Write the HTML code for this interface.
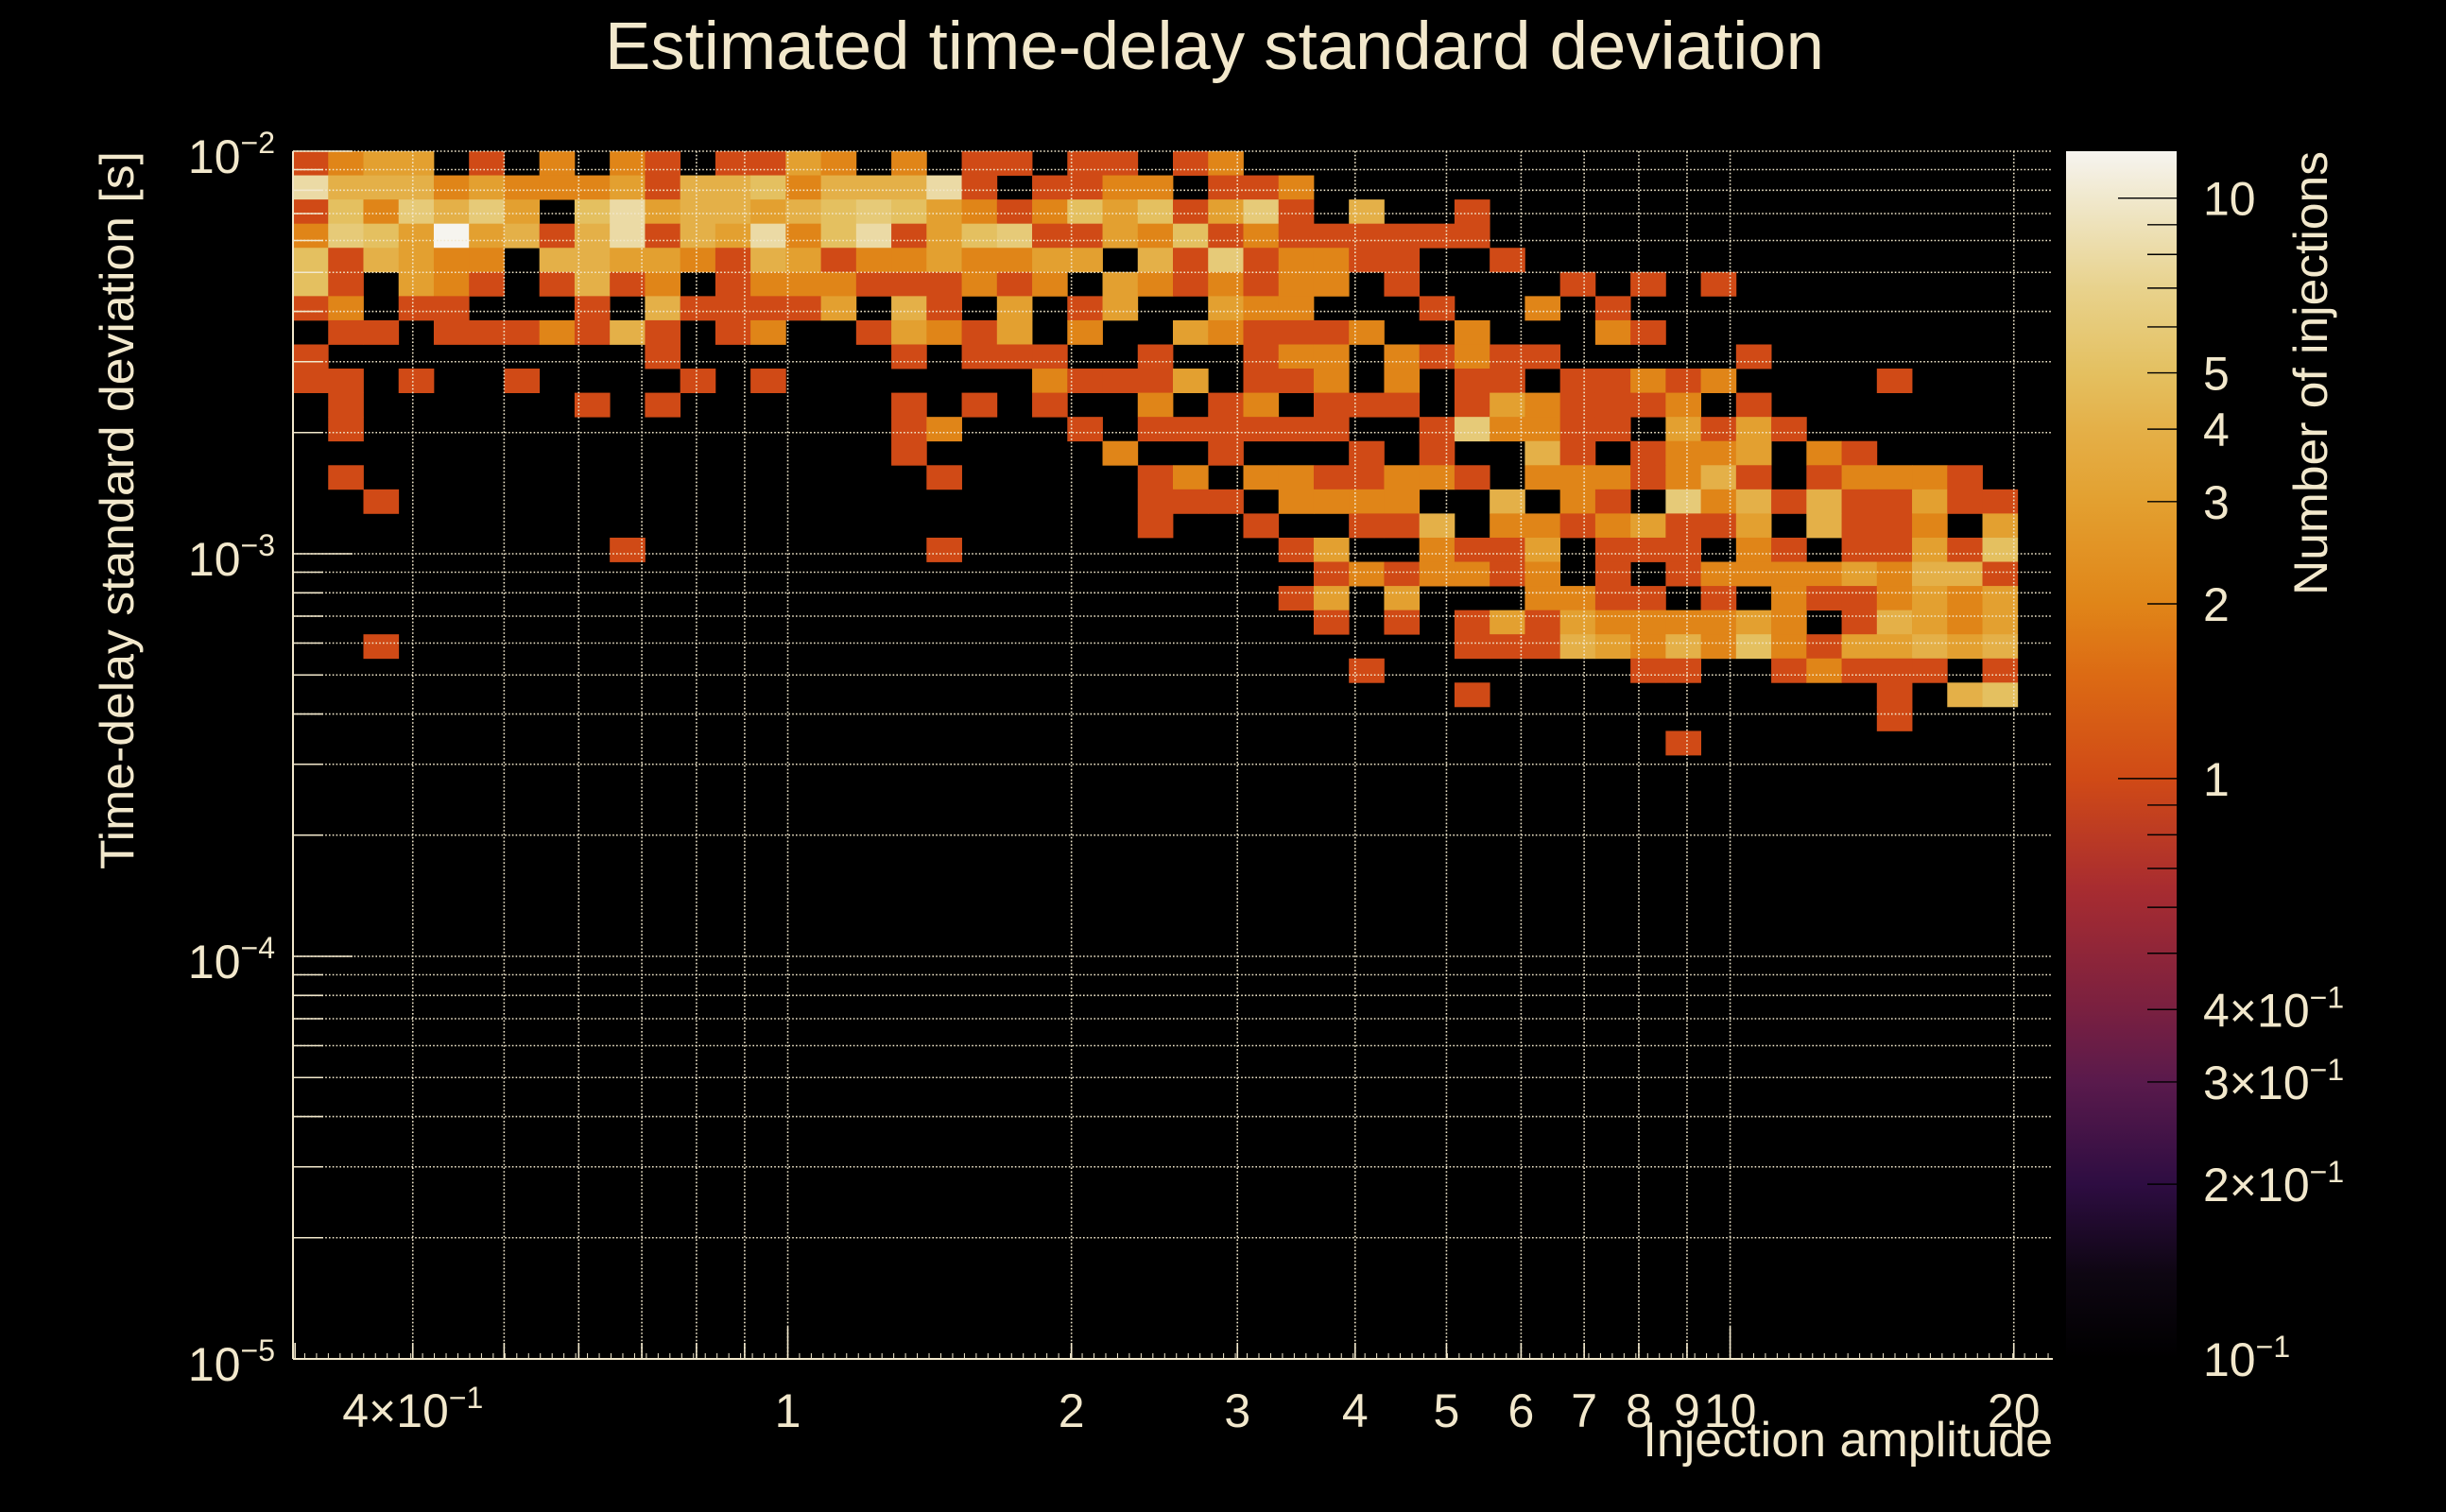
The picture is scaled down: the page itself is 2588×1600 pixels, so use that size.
<!DOCTYPE html>
<html><head><meta charset="utf-8"><style>
html,body{margin:0;padding:0;background:#000;}
svg{display:block;font-family:"Liberation Sans",sans-serif;}
</style></head><body>
<svg id="chart" width="2588" height="1600" viewBox="0 0 2588 1600" xmlns="http://www.w3.org/2000/svg">
<rect x="0" y="0" width="2588" height="1600" fill="#000"/>
<defs>
<linearGradient id="cmap" x1="0" y1="1" x2="0" y2="0">
<stop offset="0" stop-color="#000000"/>
<stop offset="0.07" stop-color="#0e0612"/>
<stop offset="0.145" stop-color="#2e0d42"/>
<stop offset="0.23" stop-color="#5a1a4c"/>
<stop offset="0.29" stop-color="#7a2040"/>
<stop offset="0.39" stop-color="#a82c30"/>
<stop offset="0.48" stop-color="#d04a16"/>
<stop offset="0.565" stop-color="#dc6a14"/>
<stop offset="0.625" stop-color="#e08518"/>
<stop offset="0.71" stop-color="#e3a030"/>
<stop offset="0.77" stop-color="#e4b048"/>
<stop offset="0.816" stop-color="#e4c060"/>
<stop offset="0.886" stop-color="#e8d28c"/>
<stop offset="0.96" stop-color="#f0e8cc"/>
<stop offset="1" stop-color="#f6f4f0"/>
</linearGradient>
</defs>
<g id="cells"></g>
<g id="grid"></g>
<g id="axes"></g>
<text x="640" y="73" font-size="71" fill="#f2e8cc" textLength="1290" lengthAdjust="spacingAndGlyphs">Estimated time-delay standard deviation</text>
<text transform="translate(141,160) rotate(-90)" text-anchor="end" font-size="50" fill="#f2e8cc" textLength="760" lengthAdjust="spacingAndGlyphs">Time-delay standard deviation [s]</text>
<text x="2172" y="1541" text-anchor="end" font-size="52" fill="#f2e8cc">Injection amplitude</text>
<rect x="2186" y="160" width="117" height="1278" fill="url(#cmap)"/>
<g id="cbar"></g>
<text transform="translate(2462,160) rotate(-90)" text-anchor="end" font-size="50" fill="#f2e8cc" textLength="470" lengthAdjust="spacingAndGlyphs">Number of injections</text>
</svg>
<script>
// ---- data: per-row sparse cells [columnBin, count]; row 0 = top bin (near 1e-2)
const row00=[[0,1],[1,2],[2,3],[3,3],[5,1],[7,2],[9,2],[10,1],[12,1],[13,1],[14,3],[15,2],[17,2],[19,1],[20,1],[22,1],[23,1],[25,1],[26,2]];
const row01=[[0,8],[1,4],[2,4],[3,4],[4,2],[5,3],[6,2],[7,2],[8,2],[9,3],[10,1],[11,4],[12,4],[13,5],[14,2],[15,4],[16,4],[17,4],[18,8],[19,1],[21,1],[22,1],[23,2],[24,2],[26,1],[27,1],[28,2]];
const row02=[[0,1],[1,5],[2,2],[3,6],[4,4],[5,6],[6,3],[8,5],[9,8],[10,3],[11,4],[12,4],[13,3],[14,4],[15,5],[16,6],[17,5],[18,3],[19,2],[20,1],[21,2],[22,5],[23,3],[24,5],[25,1],[26,3],[27,6],[28,1],[30,4],[33,1]];
const row03=[[0,2],[1,6],[2,5],[3,3],[4,12],[5,3],[6,4],[7,1],[8,4],[9,8],[10,1],[11,4],[12,3],[13,8],[14,2],[15,5],[16,8],[17,1],[18,3],[19,5],[20,6],[21,1],[22,1],[23,3],[24,2],[25,5],[26,1],[27,2],[28,1],[29,1],[30,1],[31,1],[32,1],[33,1]];
const row04=[[0,5],[1,1],[2,4],[3,3],[4,2],[5,2],[7,4],[8,4],[9,3],[10,3],[11,2],[12,1],[13,4],[14,3],[15,1],[16,2],[17,2],[18,3],[19,2],[20,2],[21,3],[22,3],[24,4],[25,1],[26,6],[27,1],[28,2],[29,2],[30,1],[31,1],[34,1]];
const row05=[[0,5],[1,1],[3,3],[4,2],[5,1],[7,1],[8,4],[9,1],[10,2],[12,1],[13,2],[14,2],[15,2],[16,1],[17,1],[18,1],[19,2],[20,1],[21,2],[23,3],[24,2],[25,1],[26,2],[27,1],[28,2],[29,2],[31,1],[36,1],[38,1],[40,1]];
const row06=[[0,1],[1,2],[3,1],[4,1],[8,1],[10,4],[11,1],[12,1],[13,1],[14,1],[15,3],[17,4],[18,1],[20,3],[22,1],[23,3],[26,3],[27,2],[28,2],[32,1],[35,2],[37,1]];
const row07=[[1,1],[2,1],[4,1],[5,1],[6,1],[7,2],[8,1],[9,4],[10,1],[12,1],[13,2],[16,1],[17,3],[18,2],[19,1],[20,3],[22,2],[25,3],[26,2],[27,1],[28,1],[29,1],[30,2],[33,2],[37,2],[38,1]];
const row08=[[0,1],[10,1],[17,1],[19,1],[20,1],[21,1],[24,1],[27,1],[28,2],[29,2],[31,2],[32,1],[33,2],[34,1],[35,1],[41,1]];
const row09=[[0,1],[1,1],[3,1],[6,1],[11,1],[13,1],[21,2],[22,1],[23,1],[24,1],[25,3],[27,1],[28,1],[29,2],[31,2],[33,1],[34,1],[36,1],[37,1],[38,2],[39,1],[40,2],[45,1]];
const row10=[[1,1],[8,1],[10,1],[17,1],[19,1],[21,1],[24,2],[26,1],[27,2],[29,1],[30,1],[31,1],[33,1],[34,3],[35,2],[36,1],[37,1],[38,1],[39,2],[41,1]];
const row11=[[1,1],[17,1],[18,2],[22,1],[24,1],[25,1],[26,1],[27,1],[28,1],[29,1],[32,1],[33,6],[34,2],[35,2],[36,1],[37,1],[39,3],[40,1],[41,3],[42,1]];
const row12=[[17,1],[23,2],[26,1],[30,1],[32,1],[35,4],[36,1],[38,1],[39,2],[40,2],[41,3],[43,2],[44,1]];
const row13=[[1,1],[18,1],[24,1],[25,2],[27,2],[28,2],[29,1],[30,1],[31,2],[32,2],[33,1],[35,2],[36,2],[37,2],[38,1],[39,2],[40,4],[41,1],[43,1],[44,2],[45,2],[46,2],[47,1]];
const row14=[[2,1],[24,1],[25,1],[26,1],[28,2],[29,2],[30,2],[31,2],[34,4],[36,2],[37,1],[39,6],[40,2],[41,4],[42,1],[43,4],[44,1],[45,1],[46,3],[47,1],[48,1]];
const row15=[[24,1],[27,1],[30,1],[31,1],[32,4],[34,2],[35,2],[36,1],[37,2],[38,3],[39,1],[40,1],[41,3],[43,4],[44,1],[45,1],[46,2],[48,3]];
const row16=[[9,1],[18,1],[28,1],[29,3],[32,2],[33,1],[34,1],[35,3],[37,1],[38,1],[39,1],[41,2],[42,1],[44,1],[45,1],[46,3],[47,1],[48,5]];
const row17=[[29,1],[30,2],[31,1],[32,2],[33,2],[34,1],[35,2],[37,1],[39,1],[40,2],[41,2],[42,2],[43,2],[44,3],[45,2],[46,4],[47,4],[48,1]];
const row18=[[28,1],[29,3],[31,3],[35,2],[36,2],[37,1],[38,1],[40,1],[42,2],[43,1],[44,1],[45,2],[46,3],[47,2],[48,3]];
const row19=[[29,1],[31,1],[33,1],[34,3],[35,1],[36,3],[37,2],[38,2],[39,2],[40,2],[41,3],[42,2],[44,1],[45,4],[46,3],[47,2],[48,3]];
const row20=[[2,1],[33,1],[34,1],[35,1],[36,4],[37,3],[38,2],[39,4],[40,2],[41,5],[42,2],[43,1],[44,3],[45,3],[46,4],[47,3],[48,4]];
const row21=[[30,1],[38,1],[39,1],[42,1],[43,2],[44,1],[45,1],[46,1],[48,1]];
const row22=[[33,1],[45,1],[47,4],[48,5]];
const row23=[[45,1]];
const row24=[[39,1]];
const rowCells=[row00,row01,row02,row03,row04,row05,row06,row07,row08,row09,row10,row11,row12,row13,row14,row15,row16,row17,row18,row19,row20,row21,row22,row23,row24];
const xTickValues=[0.4,1,2,3,4,5,6,7,8,9,10,20];
const xTickLabels=["4×10","1","2","3","4","5","6","7","8","9","10","20"];
const yTickExps=[-2,-3,-4,-5];
const cbarTickValues=[10,5,4,3,2,1,0.4,0.3,0.2,0.1];
const cbarTickLabels=["10","5","4","3","2","1","4×10","3×10","2×10","10"];

// ---- axes
const NS="http://www.w3.org/2000/svg";
const PX0=310,PX1=2172,PY0=160,PY1=1438;
const XLMIN=Math.log10(0.2985),XLMAX=Math.log10(22.0);
const YLMIN=-5,YLMAX=-2;
const NXB=50,NYB=50;
const CB_LMIN=-1,CB_LMAX=Math.log10(12.05);
const xPix=v=>PX0+(Math.log10(v)-XLMIN)/(XLMAX-XLMIN)*(PX1-PX0);
const yPixL=l=>PY1-(l-YLMIN)/(YLMAX-YLMIN)*(PY1-PY0);
const yPix=v=>yPixL(Math.log10(v));
const cbY=v=>PY1-(Math.log10(v)-CB_LMIN)/(CB_LMAX-CB_LMIN)*(PY1-PY0);
const stops=[[0,[0,0,0]],[0.07,[14,6,18]],[0.145,[46,13,66]],[0.23,[90,26,76]],[0.29,[122,32,64]],[0.39,[168,44,48]],[0.48,[208,74,22]],[0.565,[220,106,20]],[0.625,[224,133,24]],[0.71,[227,160,48]],[0.77,[228,176,72]],[0.816,[228,192,96]],[0.886,[232,210,140]],[0.96,[240,232,204]],[1,[246,244,240]]];
function colorFor(v){
  let t=(Math.log10(v)-CB_LMIN)/(CB_LMAX-CB_LMIN);t=Math.max(0,Math.min(1,t));
  for(let i=1;i<stops.length;i++){if(t<=stops[i][0]){const a=stops[i-1],b=stops[i];const f=(t-a[0])/(b[0]-a[0]);
    const c=a[1].map((x,k)=>Math.round(x+(b[1][k]-x)*f));return `rgb(${c[0]},${c[1]},${c[2]})`;}}
  return "rgb(246,244,240)";
}
function mk(tag,attrs,parent){const e=document.createElementNS(NS,tag);for(const k in attrs)e.setAttribute(k,attrs[k]);parent.appendChild(e);return e;}

const gCells=document.getElementById('cells');
const xw=(XLMAX-XLMIN)/NXB, yh=(YLMAX-YLMIN)/NYB;
rowCells.forEach((row,r)=>{
  row.forEach(([c,n])=>{
    const xa=PX0+(c*xw)/(XLMAX-XLMIN)*(PX1-PX0), xb=PX0+((c+1)*xw)/(XLMAX-XLMIN)*(PX1-PX0);
    const ya=yPixL(YLMAX-r*yh), yb=yPixL(YLMAX-(r+1)*yh);
    const e=mk('rect',{x:xa.toFixed(2),y:ya.toFixed(2),width:(xb-xa+0.4).toFixed(2),height:(yb-ya+0.4).toFixed(2),fill:colorFor(n)},gCells);
    
    
  });
});

const CREAM="#f2e8cc";
const gGrid=document.getElementById('grid');
const gridX=[0.4,0.5,0.6,0.7,0.8,0.9,1,2,3,4,5,6,7,8,9,10,20];
gridX.forEach(v=>{const x=xPix(v);const e=mk('line',{x1:x,x2:x,y1:PY0,y2:PY1,stroke:CREAM,'stroke-width':1.6,'stroke-dasharray':'1.6 2.2'},gGrid);
  
  });
const gAx=document.getElementById('axes');
for(let d=-5;d<-2;d++){for(let m=1;m<10;m++){const v=m*Math.pow(10,d);const y=yPix(v);
  if(m>1||d>-5){const e=mk('line',{x1:PX0,x2:PX1,y1:y,y2:y,stroke:CREAM,'stroke-width':1.6,'stroke-dasharray':'1.6 2.2'},gGrid);
    
    }
  const t=mk('line',{x1:PX0,x2:PX0+(m===1?63:32),y1:y,y2:y,stroke:CREAM,'stroke-width':1.6},gAx);
  
  }}
{const e=mk('line',{x1:PX0,x2:PX1,y1:PY0,y2:PY0,stroke:CREAM,'stroke-width':1.6,'stroke-dasharray':'1.6 2.2'},gGrid);
 
 
 const t=mk('line',{x1:PX0,x2:PX0+63,y1:PY0,y2:PY0,stroke:CREAM,'stroke-width':1.6},gAx);
 
 }
// axis lines
{const a=mk('line',{x1:PX0,x2:PX0,y1:PY0,y2:PY1,stroke:CREAM,'stroke-width':2},gAx);
 
 
 const b=mk('line',{x1:PX0,x2:PX1,y1:PY1,y2:PY1,stroke:CREAM,'stroke-width':2},gAx);
 
 }
// x ticks
const minorX=[0.3,0.4,0.5,0.6,0.7,0.8,0.9,1,2,3,4,5,6,7,8,9,10,20];
minorX.forEach(v=>{const x=xPix(v);const L=(v===1||v===10)?34:17;
  const t=mk('line',{x1:x,x2:x,y1:PY1,y2:PY1-L,stroke:CREAM,'stroke-width':1.6},gAx);
  
  });
for(let l=XLMIN;l<XLMAX;l+=0.0125){const x=PX0+(l-XLMIN)/(XLMAX-XLMIN)*(PX1-PX0);
  const t=mk('line',{x1:x,x2:x,y1:PY1,y2:PY1-6,stroke:CREAM,'stroke-width':1},gAx);
  
  }
// x labels
xTickValues.forEach((v,i)=>{const x=xPix(v);
  const t=mk('text',{x:x,y:1510,'text-anchor':'middle','font-size':50,fill:CREAM},gAx);
  
  
  t.textContent=xTickLabels[i];
  if(i===0){const s=mk('tspan',{dy:-20,'font-size':32},t);s.textContent='−1';}
});
// y labels
yTickExps.forEach(p=>{const y=yPixL(p);
  const t=mk('text',{x:291,y:y+23,'text-anchor':'end','font-size':50,fill:CREAM},gAx);
  
  
  const a=mk('tspan',{},t);a.textContent='10';
  const s=mk('tspan',{dy:-21,'font-size':32},t);s.textContent='−'+(-p);
});
// colorbar ticks & labels
const gCb=document.getElementById('cbar');
const cbMinor=[0.1,0.2,0.3,0.4,0.5,0.6,0.7,0.8,0.9,1,2,3,4,5,6,7,8,9,10];
cbMinor.forEach(v=>{const y=cbY(v);const L=(v===1||v===10||v===0.1)?62:31;
  const t=mk('line',{x1:2303,x2:2303-L,y1:y,y2:y,stroke:'#000','stroke-width':1.4},gCb);
  
  });
cbarTickValues.forEach((v,i)=>{const y=cbY(v);
  const t=mk('text',{x:2331,y:y+18,'font-size':50,fill:CREAM},gCb);
  
  
  const a=mk('tspan',{},t);a.textContent=cbarTickLabels[i];
  if(v<1){const s=mk('tspan',{dy:-20,'font-size':32},t);s.textContent='−1';}
});
</script>
</body></html>
